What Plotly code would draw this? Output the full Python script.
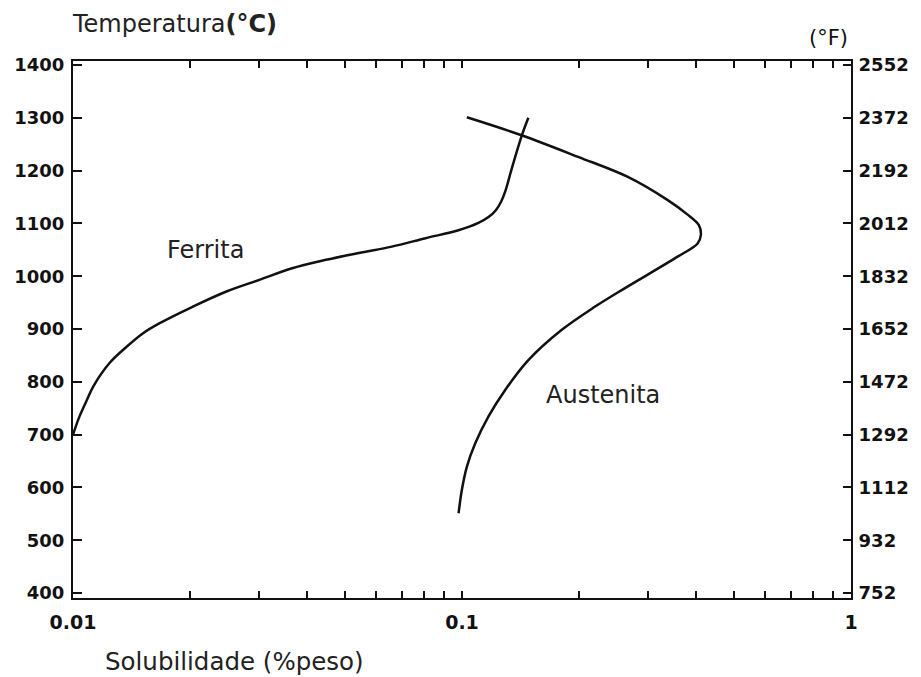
import plotly.graph_objects as go
import numpy as np

# --- data ---
ferrita_x = [0.0100, 0.0104, 0.01085, 0.01127, 0.01243, 0.01372, 0.01514, 0.01671, 0.02029,
             0.02480, 0.03012, 0.03660, 0.04472, 0.05433, 0.06600, 0.08063, 0.09795,
             0.1102, 0.1170, 0.1222, 0.1262, 0.1295, 0.1339, 0.1421, 0.1481]
ferrita_t = [700, 735, 765, 791, 836, 866, 892, 911, 942,
             971, 993, 1015, 1031, 1044, 1056, 1072, 1087,
             1101, 1112, 1125, 1142, 1163, 1201, 1264, 1300]

austenita_x = [0.1029, 0.1422, 0.1988, 0.2669, 0.3380, 0.3780, 0.4060, 0.4112, 0.4033, 0.3584,
               0.2618, 0.2194, 0.1802, 0.1481, 0.1290, 0.1169, 0.1081, 0.1029, 0.0999, 0.0980]
austenita_t = [1301, 1267, 1226, 1188, 1144, 1118, 1097, 1078, 1062, 1037,
               977, 942, 898, 841, 784, 734, 683, 639, 595, 551]

x_ticks = [0.01, 0.1, 1]
x_tick_labels = ["0.01", "0.1", "1"]
x_minor = [0.02, 0.03, 0.04, 0.05, 0.06, 0.07, 0.08, 0.09,
           0.2, 0.3, 0.4, 0.5, 0.6, 0.7, 0.8, 0.9]
c_ticks = [400, 500, 600, 700, 800, 900, 1000, 1100, 1200, 1300, 1400]
f_ticks = [752, 932, 1112, 1292, 1472, 1652, 1832, 2012, 2192, 2372, 2552]

c_range = [390.5, 1407.6]
f_range = [c * 1.8 + 32 for c in c_range]

FONT = "DejaVu Sans"
INK = "#111111"

fig = go.Figure()
fig.add_trace(go.Scatter(x=ferrita_x, y=ferrita_t, mode="lines",
                         line=dict(color=INK, width=2.5, shape="spline", smoothing=1.0),
                         showlegend=False, hoverinfo="skip"))
fig.add_trace(go.Scatter(x=austenita_x, y=austenita_t, mode="lines",
                         line=dict(color=INK, width=2.5, shape="spline", smoothing=1.0),
                         showlegend=False, hoverinfo="skip"))
# invisible trace to activate right axis
fig.add_trace(go.Scatter(x=[0.5], y=[1500], yaxis="y2", mode="markers",
                         marker=dict(opacity=0), showlegend=False, hoverinfo="skip"))

fig.update_layout(
    width=921, height=677,
    margin=dict(l=73, r=67, t=61, b=79),
    paper_bgcolor="white", plot_bgcolor="white",
    font=dict(family=FONT, color=INK),
    xaxis=dict(type="log", range=[-2, 0], tickvals=x_ticks, ticktext=x_tick_labels,
               ticks="inside", ticklen=7, tickwidth=2, tickcolor=INK,
               showline=True, linewidth=2, linecolor=INK, mirror="ticks",
               showgrid=False, zeroline=False, ticklabelstandoff=6,
               tickfont=dict(family=FONT, size=19, color=INK, weight="bold"),
               minor=dict(tickmode="array", tickvals=x_minor, ticks="inside",
                          ticklen=7, tickwidth=2, tickcolor=INK, showgrid=False)),
    yaxis=dict(range=c_range, tickvals=c_ticks, ticks="inside", ticklen=9, tickwidth=2,
               tickcolor=INK, showline=True, linewidth=2, linecolor=INK,
               showgrid=False, zeroline=False, ticklabelstandoff=3,
               tickfont=dict(family=FONT, size=18, color=INK, weight="bold")),
    yaxis2=dict(range=f_range, tickvals=f_ticks, overlaying="y", side="right",
                ticks="inside", ticklen=8, tickwidth=2, tickcolor=INK,
                showline=True, linewidth=2, linecolor=INK,
                showgrid=False, zeroline=False, ticklabelstandoff=2,
                tickfont=dict(family=FONT, size=18, color=INK, weight="bold")),
)

ann = [
    dict(text="Temperatura<b>(°C)</b>", x=-0.004, y=1.069, xref="paper", yref="paper",
         xanchor="left", yanchor="middle", showarrow=False,
         font=dict(family=FONT, size=24, color="#222222")),
    dict(text="(°F)", x=0.9987, y=1.043, xref="paper", yref="paper",
         xanchor="right", yanchor="middle", showarrow=False,
         font=dict(family=FONT, size=21, color=INK)),
    dict(text="Solubilidade (%peso)", x=0.0384, y=-0.119, xref="paper", yref="paper",
         xanchor="left", yanchor="middle", showarrow=False,
         font=dict(family=FONT, size=24.5, color="#222222")),
    dict(text="Ferrita", x=np.log10(0.0219), y=1050, xref="x", yref="y",
         xanchor="center", yanchor="middle", showarrow=False,
         font=dict(family=FONT, size=24, color="#222222")),
    dict(text="Austenita", x=np.log10(0.2310), y=775, xref="x", yref="y",
         xanchor="center", yanchor="middle", showarrow=False,
         font=dict(family=FONT, size=24, color="#222222")),
]
fig.update_layout(annotations=ann)

fig.write_html("out.html")
